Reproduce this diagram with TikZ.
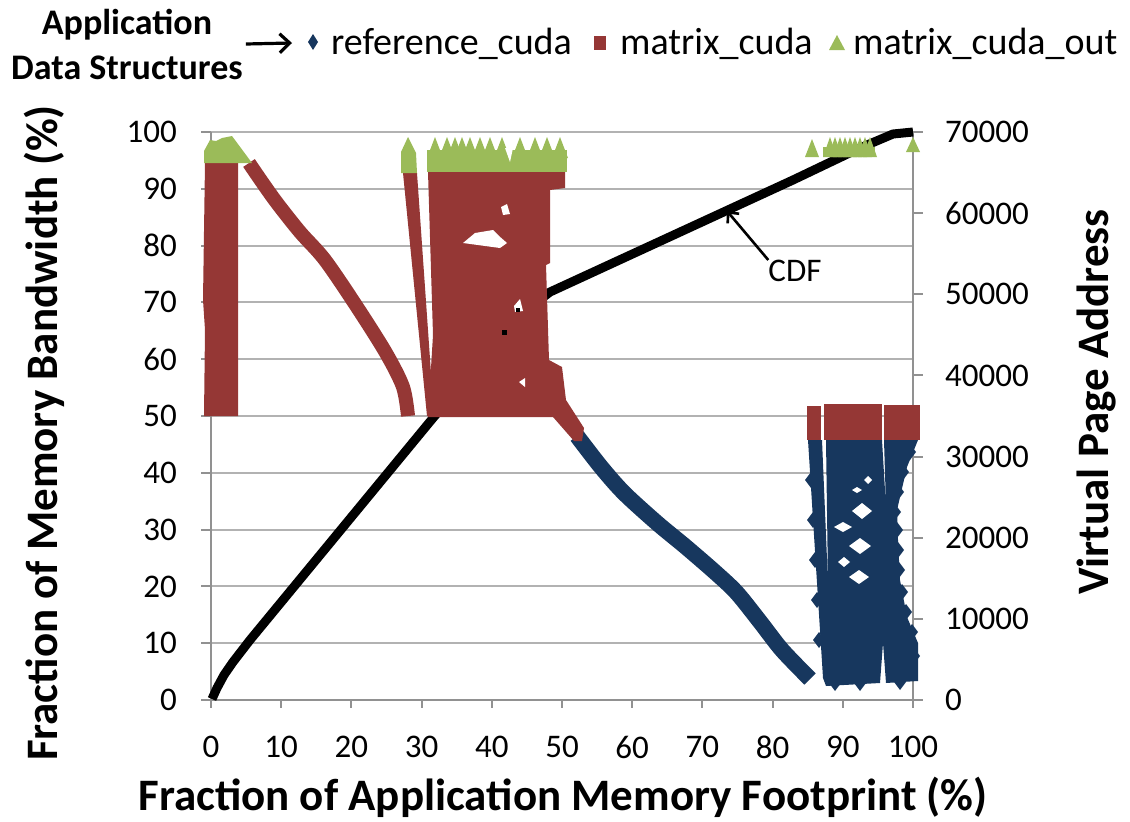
\documentclass[tikz,border=0pt]{standalone}
\usepackage{fontspec}
\setmainfont{Carlito}
\usetikzlibrary{arrows.meta}
\definecolor{refColor}{RGB}{23,55,94}
\definecolor{matColor}{RGB}{149,55,53}
\definecolor{outColor}{RGB}{155,187,89}
\definecolor{gridColor}{RGB}{178,178,178}
\definecolor{axisColor}{RGB}{145,145,145}
\tikzset{gridline/.style={draw=gridColor, line width=2pt}}
\tikzset{axisline/.style={draw=axisColor, line width=2pt}}
\tikzset{ticklabel/.style={font=\fontsize{33}{38}\selectfont, inner sep=0pt}}
\tikzset{axistitle/.style={font=\bfseries\fontsize{45}{50}\selectfont, inner sep=0pt}}
\tikzset{legendtitle/.style={font=\bfseries\fontsize{36}{45}\selectfont, inner sep=0pt, align=center}}
\tikzset{legendlabel/.style={font=\fontsize{38}{44}\selectfont, inner sep=0pt, anchor=west}}
\tikzset{notearrow/.style={draw=black, line width=2.6pt, -{Straight Barb[length=8pt,width=15pt]}}}
\tikzset{legarrow/.style={notearrow, line width=3.2pt, -{Straight Barb[length=10pt,width=19pt]}}}
\tikzset{cdfline/.style={draw=black, line width=9pt, line join=round}}
\tikzset{refband/.style={draw=refColor, line width=16pt}}
\tikzset{matband/.style={draw=matColor, line width=14pt}}

\begin{document}
\begin{tikzpicture}[x=1pt, y=-1pt]
\useasboundingbox (0,0) rectangle (1130,822);

% Grid, axes and ticks
\foreach \v in {10,20,...,100}
    \draw[gridline] (211,{700-5.68*\v}) -- (913,{700-5.68*\v});
\foreach \v in {0,10,...,100} {
    \draw[axisline] (201,{700-5.68*\v}) -- (211,{700-5.68*\v});
    \node[ticklabel, anchor=east] (yl\v) at (177,{700-5.68*\v}) {\v};
    \draw[axisline] ({211+7.02*\v},700) -- ({211+7.02*\v},708);
    \node[ticklabel] (xl\v) at ({211+7.02*\v},747) {\v};
}
\foreach \i/\lab in {0/0,1/10000,2/20000,3/30000,4/40000,5/50000,6/60000,7/70000} {
    \draw[axisline] (913,{700-81.14*\i}) -- (923,{700-81.14*\i});
    \node[ticklabel, anchor=west] (rl\i) at (945,{700-81.14*\i}) {\lab};
}
\draw[axisline] (211,132) -- (211,700);
\draw[axisline] (201,700) -- (913,700);
\draw[axisline] (913,132) -- (913,700);

% CDF
\draw[cdfline] (212,699) -- (217,688) -- (224,675) -- (233,662) -- (250,640) -- (433,418) -- (470,375)
    -- (505,333) -- (520,315) -- (550,292) -- (793,180) -- (860,148) -- (893,134) -- (913,132);

% reference_cuda
\draw[refband] plot[smooth] coordinates {(577,436) (601,467) (624,493) (657,523) (686,547) (716,573)
    (737,593) (761,623) (782,650) (810,679)};
\fill[refColor] (808,440) -- (822,440) -- (828,583) -- (826,440) -- (882,440) -- (886,507) -- (884,440)
    -- (918,440) -- (907,467) -- (897,510) -- (898,540) -- (900,580) -- (907,617) -- (918,643)
    -- (918,681) -- (886,683) -- (883,643) -- (880,683) -- (826,686) -- (823,678) -- cycle;
\foreach \cx/\cy in {910/452, 903/472, 898/492, 895/512, 897/530, 898/550, 899/570, 902/592, 906/612,
    912/632, 914/656, 811/480, 813/520, 815/560, 817/600, 819/640, 835/683, 860/683, 900/682}
    \fill[refColor] ({\cx-6},\cy) -- (\cx,{\cy-8}) -- ({\cx+6},\cy) -- (\cx,{\cy+8}) -- cycle;
\foreach \cx/\cy/\hw/\hh in {862/511/10/8, 860/546/11/8, 859/577/10/7, 843/527/9/5, 844/562/6/5, 868/480/4/4, 857/490/5/3}
    \fill[white] ({\cx-\hw},\cy) -- (\cx,{\cy-\hh}) -- ({\cx+\hw},\cy) -- (\cx,{\cy+\hh}) -- cycle;

% matrix_cuda
\fill[matColor] (204,416) -- (205,330) -- (203,300) -- (205,163) -- (238,163) -- (238,416) -- cycle;
\draw[matband] plot[smooth] coordinates {(249,163) (262,182) (277,203) (300,232) (325,260) (357,307)
    (386,353) (403,387) (408,416)};
\fill[matColor] (403,173) -- (417,173) -- (434,416) -- (427,416) -- cycle;
\fill[matColor] (428,172) -- (565,171) -- (565,188) -- (550,190) -- (550,263) -- (546,265) -- (549,360)
    -- (562,367) -- (566,400) -- (584,428) -- (582,441) -- (574,441) -- (553,417) -- (428,417)
    -- (433,335) -- cycle;
\fill[white] (463,243) -- (475,233) -- (493,230) -- (499,236) -- (507,243) -- (500,248) -- cycle;
\fill[white] (501,207) -- (507,204) -- (510,214) -- (503,215) -- cycle;
\fill[white] (514,306) -- (520,299) -- (523,311) -- (515,312) -- cycle;
\fill[white] (519,382) -- (525,378) -- (525,387) -- cycle;
\fill[black] (502,330) rectangle (507,335);
\fill[black] (516,308) rectangle (520,312);
\fill[matColor] (807,406) rectangle (821,440);
\fill[matColor] (824,404) rectangle (882,440);
\fill[matColor] (884,405) rectangle (920,440);

% matrix_cuda_out
\fill[outColor] (204,163) -- (204,151) -- (210,140) -- (216,141) -- (222,138) -- (232,136) -- (252,163) -- cycle;
\fill[outColor] (401,173) -- (401,152) -- (408,137) -- (416,153) -- (417,173) -- cycle;
\fill[outColor] (427,150) rectangle (567,172);
\foreach \x in {435,447,455,462,470,480,490,502,520,535,547,560}
    \fill[outColor] ({\x-8},158) -- (\x,137) -- ({\x+8},158) -- cycle;
\fill[white] (505,148) -- (510,162) -- (513,148) -- cycle;
\fill[outColor] (823,147) rectangle (875,157);
\foreach \x in {830,835,...,870}
    \fill[outColor] ({\x-7},157) -- (\x,137) -- ({\x+7},157) -- cycle;
\fill[outColor] (805,157) -- (812,139) -- (819,157) -- cycle;
\fill[outColor] (906,152) -- (913,137) -- (920,152) -- cycle;

% CDF note
\node[ticklabel] (cdfLabel) at (795,271) {CDF};
\coordinate (cdfTip) at (727,211);
\draw[notearrow] (cdfLabel.north west) -- (cdfTip);

% Axis titles
\node[axistitle] (xTitle) at (563,797) {Fraction of Application Memory Footprint (\%)};
\node[axistitle, rotate=90] (yTitle) at (44,433) {Fraction of Memory Bandwidth (\%)};
\node[axistitle, rotate=90] (yTitleRight) at (1097,402) {Virtual Page Address};

% Legend
\node[legendtitle] (legTitle) at (127,44) {Application\\Data Structures};
\coordinate (legTip) at (292,43);
\draw[legarrow] ([xshift=3pt]legTitle.east) -- (legTip);
\fill[refColor] (313,34) -- (318,42) -- (313,50) -- (308,42) -- cycle;
\node[legendlabel] (legRef) at (331,44) {reference\_cuda};
\fill[matColor] (594,36) rectangle (606,50);
\node[legendlabel] (legMat) at (620,44) {matrix\_cuda};
\fill[outColor] (829,50) -- (837,35) -- (845,50) -- cycle;
\node[legendlabel] (legOut) at (853,44) {matrix\_cuda\_out};
\end{tikzpicture}
\end{document}
